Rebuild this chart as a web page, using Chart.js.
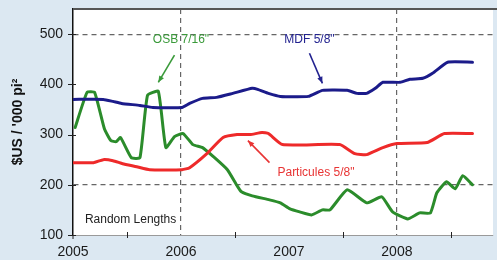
<!DOCTYPE html>
<html>
<head>
<meta charset="utf-8">
<script src="https://cdn.jsdelivr.net/npm/chart.js@4"></script>
<style>
  html, body { margin: 0; padding: 0; background: #dce8f2; }
  #wrap { width: 497px; height: 260px; position: relative; }
</style>
</head>
<body>
<div id="wrap"><canvas id="chart_prices" width="497" height="260"></canvas></div>
<script>
// OSB 7/16"
const osbYears  = [2005.02,2005.13,2005.20,2005.29,2005.35,2005.40,2005.44,2005.54,2005.62,2005.69,2005.79,2005.86,2005.94,2006.02,2006.11,2006.20,2006.30,2006.43,2006.52,2006.56,2006.66,2006.82,2006.92,2007.01,2007.10,2007.21,2007.31,2007.38,2007.54,2007.72,2007.86,2007.96,2008.10,2008.21,2008.31,2008.37,2008.46,2008.54,2008.61,2008.70];
const osbValues = [314,384,384,312,288,286,294,254,254,378,386,274,296,302,280,274,256,230,198,186,178,170,164,152,146,140,150,150,190,164,176,146,132,144,144,184,206,192,218,200];
// MDF 5/8"
const mdfYears  = [2005.00,2005.28,2005.37,2005.45,2005.62,2005.74,2006.01,2006.08,2006.20,2006.33,2006.48,2006.66,2006.71,2006.81,2006.92,2007.18,2007.31,2007.54,2007.63,2007.72,2007.80,2007.87,2008.03,2008.12,2008.24,2008.33,2008.47,2008.70];
const mdfValues = [370,370,366,362,358,354,354,362,372,374,382,392,390,382,376,376,388,388,382,382,392,404,404,410,412,422,444,444];
// Particules 5/8"
const partYears  = [2005.00,2005.19,2005.28,2005.37,2005.46,2005.59,2005.71,2006.01,2006.08,2006.24,2006.39,2006.52,2006.64,2006.75,2006.81,2006.94,2007.47,2007.61,2007.72,2007.87,2008.00,2008.28,2008.44,2008.70];
const partValues = [244,244,250,248,242,236,230,230,234,262,294,300,300,304,302,280,280,262,260,274,282,284,302,302];

const yearLabels = [2005, 2006, 2007, 2008];
const dashedYears = [2006, 2008];
const dashedValues = [200, 500];

const BLUE = '#1b1b8a', RED = '#ee2a2a', GREEN = '#2b8c2b';
const FONT = '"Liberation Sans", Arial, sans-serif';

function pts(xs, ys) { return xs.map((x, i) => ({x: x, y: ys[i]})); }

// notes: text + arrows, placed in data units
const notes = [
  {text: 'OSB 7/16"', color: '#3a9a3a', x: 2006.0, y: 488, from: [2005.94, 458], to: [2005.79, 404]},
  {text: 'MDF 5/8"', color: '#22228f', x: 2007.19, y: 488, from: [2007.19, 462], to: [2007.31, 402]},
  {text: 'Particules 5/8"', color: '#e83434', x: 2007.25, y: 224, from: [2006.82, 244], to: [2006.62, 288]},
];

const decor = {
  id: 'decor',
  beforeDraw(chart) {
    const {ctx, chartArea: a} = chart;
    ctx.save();
    ctx.fillStyle = '#dce8f2';
    ctx.fillRect(0, 0, chart.width, chart.height);
    ctx.fillStyle = '#ffffff';
    ctx.fillRect(a.left, a.top, a.right - a.left, a.bottom - a.top);
    ctx.restore();
  },
  afterDraw(chart) {
    const {ctx, chartArea: a, scales: {x, y}} = chart;
    ctx.save();
    // top frame line
    ctx.strokeStyle = '#555';
    ctx.lineWidth = 2;
    ctx.beginPath(); ctx.moveTo(a.left, a.top); ctx.lineTo(chart.width, a.top); ctx.stroke();
    // tick marks
    ctx.strokeStyle = '#222';
    ctx.lineWidth = 1;
    for (let v = 100; v <= 500; v += 100) {
      const py = Math.round(y.getPixelForValue(v)) + 0.5;
      ctx.beginPath(); ctx.moveTo(a.left - 5, py); ctx.lineTo(a.left + 3, py); ctx.stroke();
    }
    for (let t = 2005.5; t < 2009; t += 1) {
      const px = Math.round(x.getPixelForValue(t)) + 0.5;
      ctx.beginPath(); ctx.moveTo(px, a.bottom - 3); ctx.lineTo(px, a.bottom + 3); ctx.stroke();
    }
    ctx.beginPath(); ctx.moveTo(a.left, a.bottom); ctx.lineTo(a.left, a.bottom + 4); ctx.stroke();

    // labels and arrows
    ctx.font = '12px ' + FONT;
    ctx.textAlign = 'center';
    ctx.textBaseline = 'middle';
    notes.forEach(n => {
      ctx.fillStyle = n.color;
      ctx.fillText(n.text, x.getPixelForValue(n.x), y.getPixelForValue(n.y));
      const x1 = x.getPixelForValue(n.from[0]), y1 = y.getPixelForValue(n.from[1]);
      const x2 = x.getPixelForValue(n.to[0]), y2 = y.getPixelForValue(n.to[1]);
      ctx.strokeStyle = n.color;
      ctx.lineWidth = 1.6;
      ctx.beginPath(); ctx.moveTo(x1, y1); ctx.lineTo(x2, y2); ctx.stroke();
      const ang = Math.atan2(y2 - y1, x2 - x1);
      ctx.beginPath();
      ctx.moveTo(x2, y2);
      ctx.lineTo(x2 - 7 * Math.cos(ang - 0.4), y2 - 7 * Math.sin(ang - 0.4));
      ctx.lineTo(x2 - 7 * Math.cos(ang + 0.4), y2 - 7 * Math.sin(ang + 0.4));
      ctx.closePath();
      ctx.fillStyle = n.color;
      ctx.fill();
    });
    ctx.fillStyle = '#222';
    ctx.textAlign = 'left';
    ctx.fillText('Random Lengths', x.getPixelForValue(2005.11), y.getPixelForValue(130));
    ctx.restore();
  }
};

new Chart(document.getElementById('chart_prices'), {
  type: 'line',
  data: {
    datasets: [
      {label: 'MDF 5/8"', data: pts(mdfYears, mdfValues), borderColor: BLUE},
      {label: 'Particules 5/8"', data: pts(partYears, partValues), borderColor: RED},
      {label: 'OSB 7/16"', data: pts(osbYears, osbValues), borderColor: GREEN},
    ]
  },
  plugins: [decor],
  options: {
    responsive: false,
    animation: false,
    layout: {padding: {top: 9, right: 4, left: 0, bottom: 0}},
    elements: {
      point: {radius: 0},
      line: {borderWidth: 3, tension: 0.15, borderCapStyle: 'round', borderJoinStyle: 'round'}
    },
    plugins: {
      legend: {display: false},
      tooltip: {enabled: false}
    },
    scales: {
      x: {
        type: 'linear',
        min: 2005,
        max: 2008.89,
        afterFit(scale) {
          scale.height = 25;
          scale.paddingLeft = 0; scale.paddingRight = 0;
        },
        border: {display: true, color: '#9a9a9a', width: 1, dash: [5, 4]},
        grid: {
          drawTicks: false,
          lineWidth: 1.2,
          color: c => dashedYears.includes(c.tick && c.tick.value) ? '#666' : 'rgba(0,0,0,0)'
        },
        ticks: {
          stepSize: 0.5,
          includeBounds: false,
          autoSkip: false,
          maxRotation: 0,
          padding: 9,
          color: '#1a1a1a',
          font: {family: FONT, size: 14},
          callback: v => yearLabels.includes(v) ? String(v) : ''
        }
      },
      y: {
        min: 100,
        max: 550,
        afterFit(scale) {
          scale.width = 73;
          scale.paddingTop = 0; scale.paddingBottom = 0;
        },
        border: {display: true, color: '#111', width: 1.5, dash: [5, 4]},
        grid: {
          drawTicks: false,
          lineWidth: 1.2,
          color: c => dashedValues.includes(c.tick && c.tick.value) ? '#666' : 'rgba(0,0,0,0)'
        },
        ticks: {
          stepSize: 100,
          includeBounds: false,
          padding: 10,
          color: '#1a1a1a',
          font: {family: FONT, size: 14}
        },
        title: {
          display: true,
          text: "$US / '000 pi²",
          color: '#111',
          padding: 10,
          font: {family: FONT, size: 14, weight: 'bold'}
        }
      }
    }
  }
});
</script>
</body>
</html>
